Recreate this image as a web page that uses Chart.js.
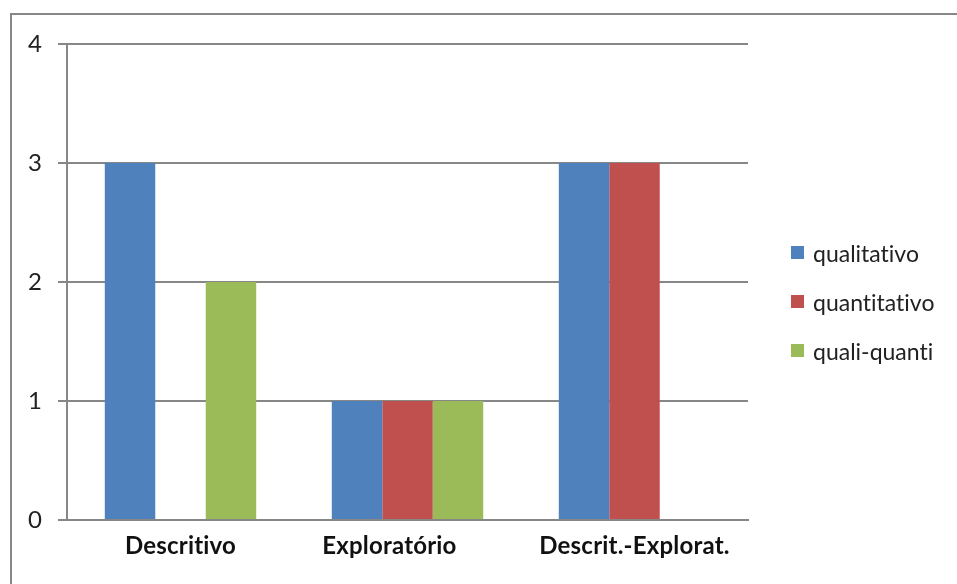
<!DOCTYPE html>
<html>
<head>
<meta charset="utf-8">
<script src="https://cdn.jsdelivr.net/npm/chart.js@4/dist/chart.umd.min.js"></script>
<style>
  html, body { margin: 0; padding: 0; background: #fff; }
  #wrap { position: relative; width: 957px; height: 584px; overflow: hidden; }
  #frame {
    position: absolute; left: 10px; top: 13px; width: 2000px; height: 2000px;
    border-top: 2px solid #878787; border-left: 2px solid #878787;
  }
  #chart { position: absolute; left: 0; top: 0; }
  #legend {
    position: absolute; left: 791px; top: 228px;
    font-family: Lato, sans-serif; font-size: 23px; color: #222;
    font-variant-ligatures: none; font-feature-settings: "liga" 0, "clig" 0;
  }
  #legend .item { height: 49px; display: flex; align-items: center; }
  #legend .box { width: 13px; height: 13px; margin-right: 9px; }
</style>
</head>
<body>
<div id="wrap">
  <div id="frame"></div>
  <canvas id="chart" width="957" height="584"></canvas>
  <div id="legend"></div>
</div>
<script>
// the middle label carries trailing blanks, so it sits a little left of centre
const categories = ["Descritivo", "Exploratório      ", "Descrit.-Explorat."];
const seriesNames = ["qualitativo", "quantitativo", "quali-quanti"];
const qualitativo = [3, 1, 3];
const quantitativo = [0, 1, 3];
const qualiQuanti = [2, 1, 0];
const yTicks = [0, 1, 2, 3, 4];

const COLORS = ['#4F81BD', '#C0504D', '#9BBB59'];
const GRID = '#878787';

const seriesValues = [qualitativo, quantitativo, qualiQuanti];

// a tiny letter spacing keeps the canvas from joining "ti" into a ligature
const noLigatures = {
    id: 'noLigatures',
    beforeDraw(chart) { chart.ctx.letterSpacing = '0.2px'; }
};

const chart = new Chart(document.getElementById("chart"), {
    type: "bar",
    data: {
        labels: categories,
        datasets: seriesNames.map((name, i) => ({
            label: name,
            data: seriesValues[i],
            backgroundColor: COLORS[i],
            borderWidth: 0,
            categoryPercentage: 0.667,
            barPercentage: 1.0
        }))
    },
    options: {
        responsive: false,
        animation: false,
        devicePixelRatio: 1,
        layout: { padding: { left: 0, top: 44, right: 209, bottom: 0 } },
        plugins: {
            legend: { display: false },
            tooltip: { enabled: false }
        },
        scales: {
            x: {
                grid: { display: false, drawTicks: false },
                border: { display: true, color: GRID, width: 2 },
                ticks: {
                    color: '#111',
                    padding: 12,
                    font: { family: 'Lato', size: 24, weight: 'bold' }
                },
                afterFit: (scale) => { scale.height = 64; }
            },
            y: {
                min: 0,
                max: 4,
                afterBuildTicks: (scale) => { scale.ticks = yTicks.map(v => ({ value: v })); },
                grid: { color: GRID, lineWidth: 2, tickLength: 9, drawTicks: true },
                border: { display: true, color: GRID, width: 2 },
                ticks: {
                    color: '#222',
                    padding: 16,
                    font: { family: 'Lato', size: 24 }
                },
                afterFit: (scale) => { scale.width = 67; }
            }
        }
    },
    plugins: [noLigatures]
});

// legend as plain html, built from the datasets
const legendEl = document.getElementById("legend");
chart.data.datasets.forEach(ds => {
    const item = document.createElement("div");
    item.className = "item";
    item.innerHTML = `<span class="box" style="background:${ds.backgroundColor}"></span><span>${ds.label}</span>`;
    legendEl.appendChild(item);
});
</script>
</body>
</html>
